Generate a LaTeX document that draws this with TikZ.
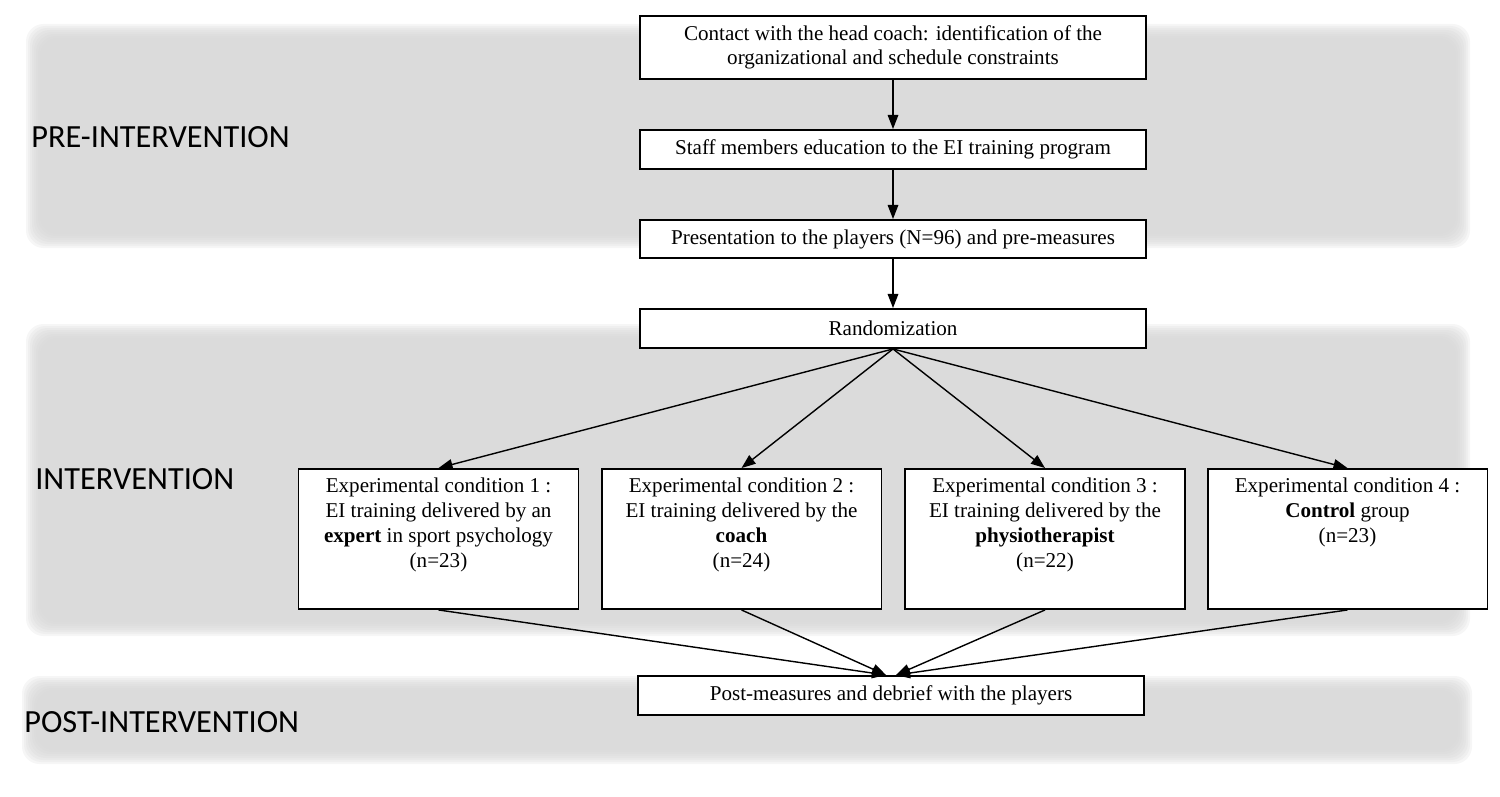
\documentclass[tikz,border=0pt]{standalone}
\usepackage{fontspec}
\setmainfont{Liberation Serif}
\newfontfamily\phasefont{Carlito}
\usetikzlibrary{arrows.meta}
\definecolor{bandgray}{HTML}{D5D5D5}

\newcommand{\condtext}[1]{\parbox[c][2.8cm][t]{5.5cm}{\vspace*{0.18cm}\centering #1}}

\tikzset{
  stepbox/.style={draw=black, line width=1.1pt, fill=white, minimum width=10.12cm, inner sep=2pt, align=center, font=\fontsize{12}{13.7}\selectfont},
  condbox/.style={draw=black, line width=1.1pt, fill=white, inner sep=0pt, minimum width=5.6cm, minimum height=2.8cm, font=\fontsize{12}{14.2}\selectfont},
  phase/.style={anchor=west, inner sep=0pt, font=\phasefont\fontsize{18.4}{21}\selectfont},
  flow/.style={line width=0.8pt, -{Triangle[length=8pt,width=6pt]}},
}

\begin{document}
\begin{tikzpicture}[x=0.02cm, y=-0.02cm]
\useasboundingbox (0,0) rectangle (1500,797);
% soft grey bands
\foreach \xa/\ya/\xb/\yb in {26/24/1470/248, 26/324/1470/636, 22/676/1472/764} {
  \foreach \s in {0,2,...,14}
    \fill[bandgray, opacity=0.22, rounded corners=0.35cm] (\xa+\s,\ya+\s) rectangle (\xb-\s,\yb-\s);
}

% phase labels
\node[phase] (pre) at (31,137) {PRE-INTERVENTION};
\node[phase] (inter) at (35,479) {INTERVENTION};
\node[phase] (post) at (24,722) {POST-INTERVENTION};

% main steps
\node[stepbox, minimum height=1.26cm] (contact) at (893,47.5) {Contact with the head coach: identification of the\\organizational and schedule constraints};
\node[stepbox, minimum height=0.78cm] (staff) at (893,149.5) {Staff members education to the EI training program};
\node[stepbox, minimum height=0.76cm] (present) at (893,239) {Presentation to the players (N=96) and pre-measures};
\node[stepbox, minimum height=0.78cm] (random) at (893,328.5) {Randomization};

% conditions
\node[condbox] (cond1) at (438.5,539) {\condtext{Experimental condition 1 :\\EI training delivered by an\\\textbf{expert} in sport psychology\\(n=23)}};
\node[condbox] (cond2) at (741.5,539) {\condtext{Experimental condition 2 :\\EI training delivered by the\\\textbf{coach}\\(n=24)}};
\node[condbox] (cond3) at (1045,539) {\condtext{Experimental condition 3 :\\EI training delivered by the\\\textbf{physiotherapist}\\(n=22)}};
\node[condbox] (cond4) at (1347.5,539) {\condtext{Experimental condition 4 :\\\textbf{Control} group\\(n=23)}};

\node[stepbox, minimum height=0.78cm] (postm) at (891,695.5) {Post-measures and debrief with the players};

% arrows
\draw[flow] (contact) -- (staff);
\draw[flow] (staff) -- (present);
\draw[flow] (present) -- (random);
\foreach \c in {cond1,cond2,cond3,cond4}
  \draw[flow] (random.south) -- (\c.north);
\draw[flow] (cond1.south) -- ([xshift=-0.1cm]postm.north);
\draw[flow] (cond2.south) -- ([xshift=-0.1cm]postm.north);
\draw[flow] (cond3.south) -- ([xshift=0.1cm]postm.north);
\draw[flow] (cond4.south) -- ([xshift=0.1cm]postm.north);
\end{tikzpicture}
\end{document}
